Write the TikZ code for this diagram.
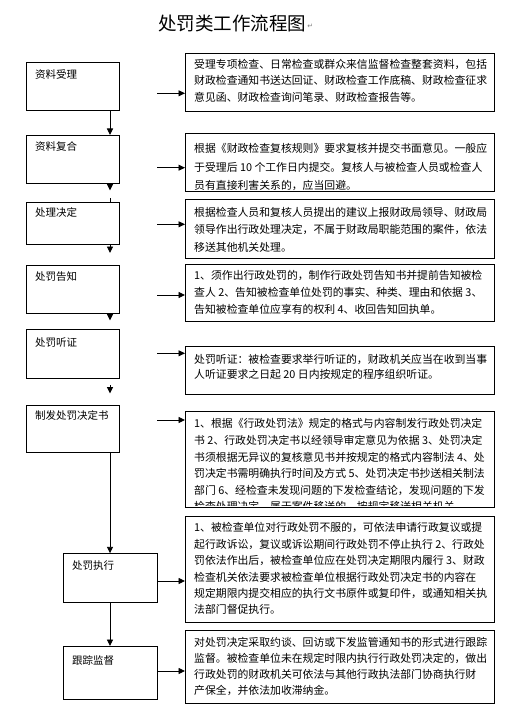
\documentclass[tikz,border=0pt]{standalone}
\usepackage{fontspec}
\setmainfont{Noto Sans CJK SC}
\newfontfamily\symfont{DejaVu Sans}
\usetikzlibrary{arrows.meta}
\begin{document}
\begin{tikzpicture}[x=1bp,y=-1bp,
  lbox/.style={draw, line width=0.9bp, anchor=north west, inner sep=0pt, minimum width=93bp},
  rbox/.style={draw, line width=0.9bp, anchor=north west, inner sep=0pt, minimum width=309bp},
  ltext/.style={anchor=west, inner sep=0pt, font=\fontsize{10.5bp}{12bp}\selectfont},
  rtext/.style={anchor=north west, inner sep=0pt, align=left, font=\fontsize{10.85bp}{#1}\selectfont},
  arr/.style={line width=0.9bp, -{Triangle[length=6.5bp,width=6bp]}},
  tick/.style={line width=0.9bp}]
\useasboundingbox (0,0) rectangle (522,714);

% title
\node[inner sep=0pt, font=\fontsize{18.5bp}{20bp}\selectfont] (title) at (232,23) {处罚类工作流程图};
\node[anchor=west, inner sep=1pt, text=gray, font=\symfont\fontsize{7bp}{8bp}\selectfont] (pm) at ([yshift=-3pt]title.east) {↵};

% left boxes
\node[lbox, minimum height=48bp] (b1) at (26,62) {};
\node[lbox, minimum height=48.3bp] (b2) at (26,135) {};
\node[lbox, minimum height=42.8bp] (b3) at (26,201.5) {};
\node[lbox, minimum height=47.5bp] (b4) at (26,265) {};
\node[lbox, minimum height=49bp] (b5) at (26,329.3) {};
\node[lbox, minimum height=46.7bp] (b6) at (26,405) {};
\node[lbox, minimum width=94bp, minimum height=49bp] (b7) at (63.3,553.3) {};
\node[lbox, minimum width=94bp, minimum height=53.3bp] (b8) at (63.3,646) {};

\node[ltext] (l1) at (35,74) {资料受理};
\node[ltext] (l2) at (35,146.7) {资料复合};
\node[ltext] (l3) at (35,212.3) {处理决定};
\node[ltext] (l4) at (35,276.7) {处罚告知};
\node[ltext] (l5) at (35,342.3) {处罚听证};
\node[ltext] (l6) at (35,415) {制发处罚决定书};
\node[ltext] (l7) at (72,566) {处罚执行};
\node[ltext] (l8) at (72,660) {跟踪监督};

% right boxes
\node[rbox, minimum height=57.4bp] (r1) at (185,53.3) {};
\node[rbox, minimum height=57.4bp] (r2) at (185,133.3) {};
\node[rbox, minimum height=58.7bp] (r3) at (185,199) {};
\node[rbox, minimum height=57bp] (r4) at (185,264) {};
\node[rbox, minimum height=48bp] (r5) at (185,346) {};
\node[rbox, minimum height=96.3bp] (r6) at (185,411) {};
\node[rbox, minimum height=105.7bp] (r7) at (185,516) {};
\node[rbox, minimum height=72.7bp] (r8) at (185,630) {};

\node[rtext=16.3bp] (t1) at (194,59.3) {受理专项检查、日常检查或群众来信监督检查整套资料，包括\\财政检查通知书送达回证、财政检查工作底稿、财政检查征求\\意见函、财政检查询问笔录、财政检查报告等。};
\node[rtext=18.2bp] (t2) at (194,143.4) {根据《财政检查复核规则》要求复核并提交书面意见。一般应\\于受理后 10 个工作日内提交。复核人与被检查人员或检查人\\员有直接利害关系的，应当回避。};
\node[rtext=17.5bp] (t3) at (194,206.9) {根据检查人员和复核人员提出的建议上报财政局领导、财政局\\领导作出行政处理决定，不属于财政局职能范围的案件，依法\\移送其他机关处理。};
\node[rtext=17bp] (t4) at (194,270.3) {1、须作出行政处罚的，制作行政处罚告知书并提前告知被检\\查人 2、告知被检查单位处罚的事实、种类、理由和依据 3、\\告知被检查单位应享有的权利 4、收回告知回执单。};
\node[rtext=15bp] (t5) at (194,353.6) {处罚听证：被检查要求举行听证的，财政机关应当在收到当事\\人听证要求之日起 20 日内按规定的程序组织听证。};
\begin{scope}
\clip (186,412) rectangle (493,505);
\node[rtext=16.6bp] (t6) at (194,418.6) {1、根据《行政处罚法》规定的格式与内容制发行政处罚决定\\书 2、行政处罚决定书以经领导审定意见为依据 3、处罚决定\\书须根据无异议的复核意见书并按规定的格式内容制法 4、处\\罚决定书需明确执行时间及方式 5、处罚决定书抄送相关制法\\部门 6、经检查未发现问题的下发检查结论，发现问题的下发\\检查处理决定，属于案件移送的，按规定移送相关机关。};
\end{scope}
\node[rtext=16.4bp] (t7) at (194,522.6) {1、被检查单位对行政处罚不服的，可依法申请行政复议或提\\起行政诉讼，复议或诉讼期间行政处罚不停止执行 2、行政处\\罚依法作出后，被检查单位应在处罚决定期限内履行 3、财政\\检查机关依法要求被检查单位根据行政处罚决定书的内容在\\规定期限内提交相应的执行文书原件或复印件，或通知相关执\\法部门督促执行。};
\node[rtext=16.1bp] (t8) at (194,636.9) {对处罚决定采取约谈、回访或下发监管通知书的形式进行跟踪\\监督。被检查单位未在规定时限内执行行政处罚决定的，做出\\行政处罚的财政机关可依法与其他行政执法部门协商执行财\\产保全，并依法加收滞纳金。};

% vertical connectors
\coordinate (vx) at (110,0);
\draw[arr] (b1.south -| vx) -- (b2.north -| vx);
\coordinate (a2) at (110,190.5);
\draw[arr] (b2.south -| vx) -- (a2);
\draw[tick] (b3.north -| vx) -- ++(0,-3.5);
\coordinate (a3) at (110,253);
\draw[arr] (b3.south -| vx) -- (a3);
\coordinate (a4) at (110,320.5);
\draw[arr] (b4.south -| vx) -- (a4);
\coordinate (s5) at (110,385);
\coordinate (a5) at (110,393.5);
\draw[arr] (s5) -- (a5);
\draw[arr] (b6.south -| vx) -- (b7.north -| vx);
\draw[arr] (b7.south -| vx) -- (b8.north -| vx);

% horizontal connectors
\coordinate (h1) at (157,93.3);
\coordinate (h2) at (157,167.7);
\coordinate (h3) at (157,224.3);
\coordinate (h4) at (157,295);
\coordinate (h5) at (157,353.3);
\coordinate (h6) at (157,420);
\coordinate (h7) at (157,581);
\coordinate (h8) at (157,671);
\draw[arr] (h1) -- (h1 -| r1.west);
\draw[arr] (h2) -- (h2 -| r2.west);
\draw[arr] (h3) -- (h3 -| r3.west);
\draw[arr] (h4) -- (h4 -| r4.west);
\draw[arr] (h5) -- (h5 -| r5.west);
\draw[arr] (h6) -- (h6 -| r6.west);
\draw[arr] (h7 -| b7.east) -- (h7 -| r7.west);
\draw[arr] (h8 -| b8.east) -- (h8 -| r8.west);
\end{tikzpicture}
\end{document}
